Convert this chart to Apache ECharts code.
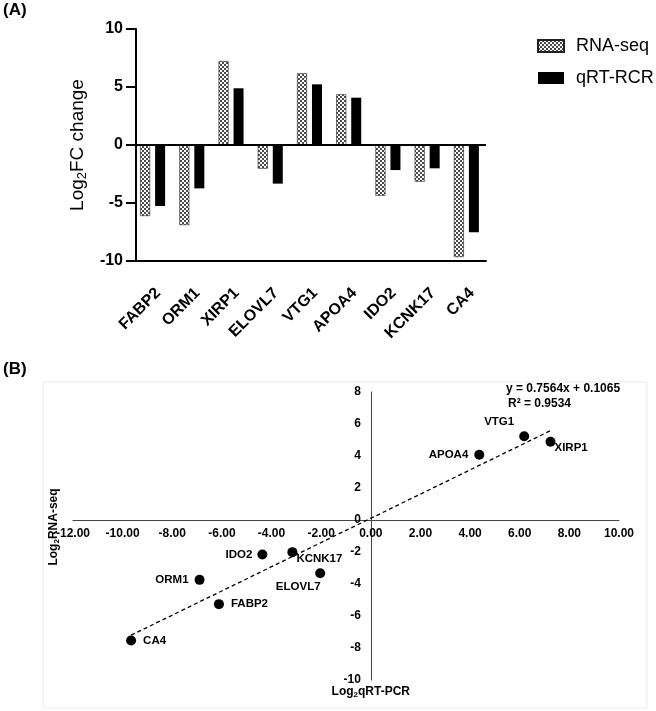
<!DOCTYPE html>
<html>
<head>
<meta charset="utf-8">
<script src="https://cdn.jsdelivr.net/npm/echarts@6/dist/echarts.min.js"></script>
<style>
    html, body { margin: 0; padding: 0; background: #fff; }
    #main { width: 656px; height: 711px; }
</style>
</head>
<body>
<div id="main"></div>
<script>
    // genes and log2 fold changes
    var genes = ['FABP2', 'ORM1', 'XIRP1', 'ELOVL7', 'VTG1', 'APOA4', 'IDO2', 'KCNK17', 'CA4'];
    var rnaSeq = [-6.12, -6.90, 7.24, -2.04, 6.18, 4.37, -4.37, -3.16, -9.66];
    var qPcr = [-5.26, -3.74, 4.89, -3.33, 5.23, 4.08, -2.16, -2.01, -7.53];

    // fitted line shown in panel B
    var slope = 0.7564;
    var intercept = 0.1065;
    var rSquared = 0.9534;

    var barTicks = [-10, -5, 0, 5, 10];

    var font = '"Liberation Sans", Arial, sans-serif';

    // checkered fill for the RNA-seq bars
    var tile = document.createElement('canvas');
    tile.width = 4;
    tile.height = 4;
    var ctx = tile.getContext('2d');
    ctx.fillStyle = '#ffffff';
    ctx.fillRect(0, 0, 4, 4);
    ctx.fillStyle = '#4a4a4a';
    ctx.fillRect(0, 0, 2, 2);
    ctx.fillRect(2, 2, 2, 2);
    var checker = {image: tile, repeat: 'repeat'};

    // where each gene label sits around its dot
    var labelPlace = {
        FABP2: {position: 'right', distance: 7},
        ORM1: {position: 'left', distance: 6},
        XIRP1: {position: 'right', distance: 4, offset: [-5, 6]},
        ELOVL7: {position: 'bottom', distance: 3, offset: [-22, 0]},
        VTG1: {position: 'top', distance: 3, offset: [-25, 0]},
        APOA4: {position: 'left', distance: 6},
        IDO2: {position: 'left', distance: 5},
        KCNK17: {position: 'right', distance: 4, offset: [-5, 7]},
        CA4: {position: 'right', distance: 7}
    };

    var points = genes.map(function (g, i) {
        return {name: g, value: [rnaSeq[i], qPcr[i]], label: labelPlace[g]};
    });

    var xMin = Math.min.apply(null, rnaSeq);
    var xMax = Math.max.apply(null, rnaSeq);
    var trend = [[xMin, slope * xMin + intercept], [xMax, slope * xMax + intercept]];

    // panel B grid; axes are shifted so they cross at 0 with their labels
    var gB = {left: 73, right: 37, top: 392, bottom: 31};
    var bX = {min: -12, max: 10};
    var bY = {min: -10, max: 8};
    var bW = 656 - gB.left - gB.right;
    var bH = 711 - gB.top - gB.bottom;
    var xAxisShift = -bH * (0 - bY.min) / (bY.max - bY.min);
    var yAxisShift = -bW * (0 - bX.min) / (bX.max - bX.min);

    var subRich = {
        n: {fontSize: 12, fontWeight: 'bold', fontFamily: font, color: '#000', lineHeight: 14},
        s: {fontSize: 8, fontWeight: 'bold', fontFamily: font, color: '#000', verticalAlign: 'bottom', lineHeight: 8}
    };

    var chart = echarts.init(document.getElementById('main'));
    chart.setOption({
        backgroundColor: '#fff',
        animation: false,
        textStyle: {fontFamily: font, color: '#000'},
        graphic: [
            {type: 'text', left: 3, top: 2, style: {text: '(A)', font: 'bold 17px ' + font, fill: '#000'}},
            {type: 'text', left: 3, top: 361, style: {text: '(B)', font: 'bold 17px ' + font, fill: '#000'}},
            {type: 'rect', shape: {x: 43, y: 382, width: 604, height: 326}, style: {fill: 'none', stroke: '#ececec', lineWidth: 1}, silent: true},
            {type: 'text', left: 506, top: 383, style: {text: 'y = ' + slope + 'x + ' + intercept, font: 'bold 12px ' + font, fill: '#000'}},
            {type: 'text', left: 508, top: 398, style: {text: 'R\u00b2 = ' + rSquared, font: 'bold 12px ' + font, fill: '#000'}}
        ],
        legend: {
            data: ['RNA-seq', 'qRT-RCR'],
            orient: 'vertical',
            left: 532,
            top: 32,
            icon: 'rect',
            itemWidth: 26,
            itemHeight: 12,
            itemGap: 14,
            textStyle: {fontSize: 18, color: '#000', fontFamily: font, padding: [0, 0, 0, 7]}
        },
        grid: [
            {left: 133, right: 170, top: 29, bottom: 450},
            gB
        ],
        xAxis: [
            {
                gridIndex: 0,
                type: 'category',
                data: genes,
                axisLine: {onZero: false, lineStyle: {color: '#000', width: 2}},
                axisTick: {alignWithLabel: true, length: 9, lineStyle: {color: '#000', width: 2}},
                axisLabel: {
                    rotate: 45, margin: 24, verticalAlign: 'top',
                    fontSize: 16, fontWeight: 'bold', color: '#000', fontFamily: font
                }
            },
            {
                gridIndex: 1,
                type: 'value',
                min: bX.min,
                max: bX.max,
                interval: 2,
                offset: xAxisShift,
                name: '{n|Log}{s|2}{n|RNA-seq}',
                nameLocation: 'start',
                nameRotate: 90,
                nameGap: 12,
                nameMoveOverlap: false,
                nameTextStyle: {rich: subRich, padding: [0, 14, 0, 0]},
                axisLine: {onZero: false, lineStyle: {color: '#444', width: 1}},
                axisTick: {show: false},
                splitLine: {show: false},
                axisLabel: {
                    margin: 8, fontSize: 12, fontWeight: 'bold', color: '#000', fontFamily: font,
                    formatter: function (v) { return v.toFixed(2); }
                }
            }
        ],
        yAxis: [
            {
                gridIndex: 0,
                type: 'value',
                min: barTicks[0],
                max: barTicks[barTicks.length - 1],
                interval: 5,
                offset: -3,
                name: '{n|Log}{s|2}{n|FC change}',
                nameLocation: 'middle',
                nameGap: 44,
                nameTextStyle: {
                    rich: {
                        n: {fontSize: 19, fontFamily: font, color: '#000', lineHeight: 22},
                        s: {fontSize: 13, fontFamily: font, color: '#000', verticalAlign: 'bottom', lineHeight: 13}
                    }
                },
                axisLine: {show: true, lineStyle: {color: '#000', width: 2}},
                axisTick: {show: true, length: 10, lineStyle: {color: '#000', width: 2}},
                splitLine: {show: false},
                axisLabel: {margin: 13, fontSize: 16, fontWeight: 'bold', color: '#000', fontFamily: font}
            },
            {
                gridIndex: 1,
                type: 'value',
                min: bY.min,
                max: bY.max,
                interval: 2,
                offset: yAxisShift,
                name: '{n|Log}{s|2}{n|qRT-PCR}',
                nameLocation: 'start',
                nameGap: 5,
                nameMoveOverlap: false,
                nameTextStyle: {rich: subRich},
                axisLine: {show: true, onZero: false, lineStyle: {color: '#444', width: 1}},
                axisTick: {show: false},
                splitLine: {show: false},
                axisLabel: {margin: 10, fontSize: 12, fontWeight: 'bold', color: '#000', fontFamily: font}
            }
        ],
        series: [
            {
                name: 'RNA-seq',
                type: 'bar',
                xAxisIndex: 0,
                yAxisIndex: 0,
                data: rnaSeq,
                barWidth: 10,
                barGap: '50%',
                itemStyle: {color: checker, borderColor: '#222', borderWidth: 0.6},
                markLine: {
                    silent: true,
                    symbol: 'none',
                    label: {show: false},
                    lineStyle: {color: '#000', width: 2, type: 'solid'},
                    data: [{yAxis: 0}]
                }
            },
            {
                name: 'qRT-RCR',
                type: 'bar',
                xAxisIndex: 0,
                yAxisIndex: 0,
                data: qPcr,
                barWidth: 10,
                itemStyle: {color: '#000'}
            },
            {
                name: 'trend',
                type: 'line',
                xAxisIndex: 1,
                yAxisIndex: 1,
                data: trend,
                symbol: 'none',
                lineStyle: {color: '#000', width: 1.3, type: [4, 3]},
                silent: true
            },
            {
                name: 'genes',
                type: 'scatter',
                xAxisIndex: 1,
                yAxisIndex: 1,
                data: points,
                symbolSize: 10,
                itemStyle: {color: '#000', opacity: 1},
                label: {
                    show: true,
                    formatter: '{b}',
                    fontSize: 11.5,
                    fontWeight: 'bold',
                    color: '#000',
                    fontFamily: font
                }
            }
        ]
    });
</script>
</body>
</html>
